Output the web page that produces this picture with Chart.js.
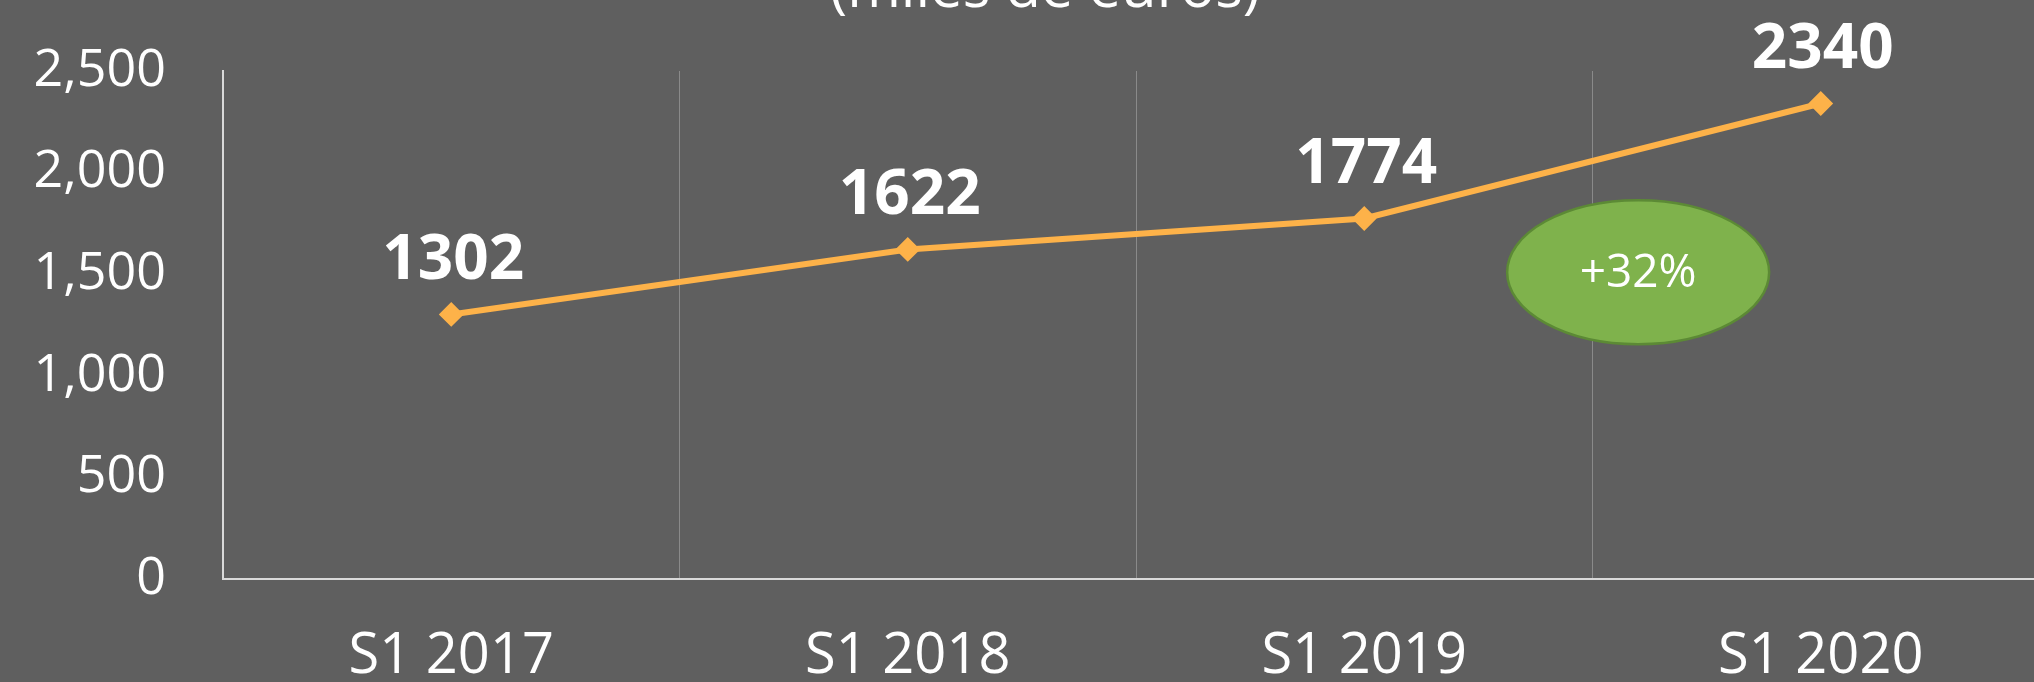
<!DOCTYPE html>
<html>
<head>
<meta charset="utf-8">
<script src="https://cdn.jsdelivr.net/npm/chart.js@4"></script>
<style>
  html, body { margin: 0; padding: 0; background: #5f5f5f; overflow: hidden; }
  #wrap { width: 2062px; height: 682px; }
</style>
</head>
<body>
<div id="wrap"><canvas id="chart"></canvas></div>
<script>
const periods = ['S1 2017', 'S1 2018', 'S1 2019', 'S1 2020'];
const sales = [1302, 1622, 1774, 2340];
const yTicks = [0, 500, 1000, 1500, 2000, 2500];
const growthLabel = '+32%';
const titleText = '(miles de euros)';

const FONT = "'Open Sans', 'Noto Sans', sans-serif";

// value above each point
const valueLabels = {
  id: 'valueLabels',
  afterDatasetsDraw(chart) {
    const ctx = chart.ctx;
    const meta = chart.getDatasetMeta(0);
    ctx.save();
    ctx.fillStyle = '#ffffff';
    ctx.font = 'bold 62px ' + FONT;
    ctx.textAlign = 'center';
    ctx.textBaseline = 'middle';
    meta.data.forEach((pt, i) => {
      ctx.fillText(String(sales[i]), pt.x + 2, pt.y - 53);
    });
    ctx.restore();
  }
};

// green growth badge
const badge = {
  id: 'badge',
  afterDatasetsDraw(chart, args, opts) {
    const ctx = chart.ctx;
    const cx = chart.scales.x.getPixelForValue(opts.xValue);
    const cy = chart.scales.y.getPixelForValue(opts.yValue);
    ctx.save();
    ctx.beginPath();
    ctx.ellipse(cx, cy, 131, 72, 0, 0, Math.PI * 2);
    ctx.fillStyle = '#7fb24c';
    ctx.fill();
    ctx.lineWidth = 2.5;
    ctx.strokeStyle = '#5c8a35';
    ctx.stroke();
    ctx.fillStyle = '#ffffff';
    ctx.font = '46px ' + FONT;
    ctx.textAlign = 'center';
    ctx.textBaseline = 'middle';
    ctx.fillText(growthLabel, cx, cy + 2);
    ctx.restore();
  }
};

// title, mostly cut off at the top
const topTitle = {
  id: 'topTitle',
  afterDraw(chart) {
    const ctx = chart.ctx;
    ctx.save();
    ctx.fillStyle = '#ffffff';
    ctx.font = '58px ' + FONT;
    ctx.textAlign = 'center';
    ctx.textBaseline = 'alphabetic';
    ctx.fillText(titleText, 1045, 7);
    ctx.restore();
  }
};

const ctx = document.getElementById('chart').getContext('2d');
new Chart(ctx, {
  type: 'line',
  data: {
    labels: periods,
    datasets: [{
      data: sales,
      borderColor: '#fdb249',
      backgroundColor: '#fdb249',
      borderWidth: 6,
      tension: 0,
      pointStyle: 'rectRot',
      pointRadius: 11,
      pointBorderWidth: 2,
      pointBorderColor: '#fdb249',
      pointBackgroundColor: '#fdb249'
    }]
  },
  options: {
    responsive: true,
    maintainAspectRatio: false,
    animation: false,
    locale: 'en-US',
    layout: { padding: { top: 71, right: 0, left: 0, bottom: 0 } },
    plugins: {
      legend: { display: false },
      tooltip: { enabled: false },
      badge: { xValue: 2.6, yValue: 1510 }
    },
    scales: {
      x: {
        offset: true,
        grid: {
          offset: true,
          drawTicks: false,
          lineWidth: 1,
          color: c => c.index === 0 ? 'rgba(0,0,0,0)' : '#8a8a8a'
        },
        border: { display: true, color: '#d9d9d9', width: 2 },
        ticks: { color: '#ffffff', padding: 44, font: { family: FONT, size: 56 } },
        afterFit: s => { s.height = 103; }
      },
      y: {
        min: 0,
        max: 2500,
        afterBuildTicks: s => { s.ticks = yTicks.map(v => ({ value: v })); },
        grid: { display: false, drawTicks: false },
        border: { display: true, color: '#d9d9d9', width: 2 },
        ticks: { color: '#ffffff', padding: 57, font: { family: FONT, size: 52 } },
        afterFit: s => { s.width = 223; s.paddingTop = 0; s.paddingBottom = 0; }
      }
    }
  },
  plugins: [valueLabels, badge, topTitle]
});
</script>
</body>
</html>
